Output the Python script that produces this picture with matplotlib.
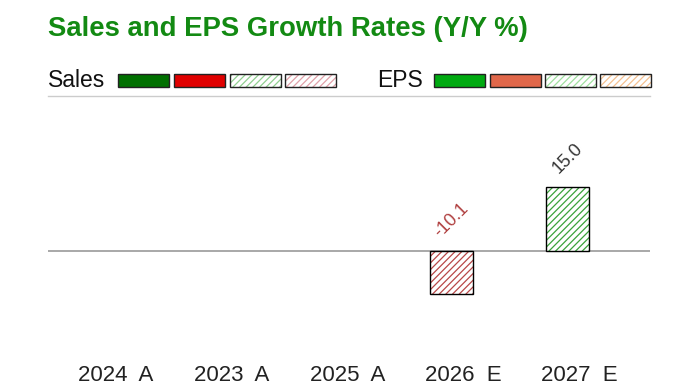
import matplotlib.pyplot as plt
from matplotlib.patches import Rectangle
import numpy as np

plt.rcParams['font.family'] = ['Liberation Sans', 'DejaVu Sans']
plt.rcParams['hatch.linewidth'] = 0.9

categories = ['2024  A', '2023  A', '2025  A', '2026  E', '2027  E']
is_estimate = [False, False, False, True, True]
sales_growth = [np.nan, np.nan, np.nan, -10.1, 15.0]
eps_growth = [np.nan, np.nan, np.nan, np.nan, np.nan]

fig = plt.figure(figsize=(7, 3.87), dpi=100)
ax = fig.add_axes([48 / 700, 46 / 387, 602 / 700, 245 / 387])

x = np.arange(len(categories))
w = 0.37

for i, v in enumerate(sales_growth):
    if np.isnan(v):
        continue
    pos = v >= 0
    if is_estimate[i]:
        hc = '#3aa23a' if pos else '#b84848'
        ax.bar(x[i] - 0.1, v, w, color='white', edgecolor=hc, hatch='/////', lw=0, zorder=2)
        ax.bar(x[i] - 0.1, v, w, color='none', edgecolor='black', lw=1.0, zorder=3)
    else:
        ax.bar(x[i] - 0.1, v, w, color='#007000' if pos else '#e00000', edgecolor='black', lw=1.0, zorder=3)
    ax.text(x[i] - 0.1, max(v, 0) + 2.4, f'{v:.1f}', rotation=45, ha='center', va='bottom',
            fontsize=13, color='#333333' if pos else '#b04040')

ax.axhline(0, color='#999999', lw=1.2, zorder=1)
ax.set_xlim(-0.58, 4.61)
ax.set_ylim(-21, 36.3)
ax.set_xticks(x)
ax.set_xticklabels(categories, fontsize=16, color='#222222')
ax.tick_params(axis='x', length=0, pad=17)
ax.set_yticks([])
for s in ['left', 'right', 'bottom']:
    ax.spines[s].set_visible(False)
ax.spines['top'].set_color('#cccccc')
ax.spines['top'].set_linewidth(1.0)

fig.text(48 / 700, 1 - 28.5 / 387, 'Sales and EPS Growth Rates (Y/Y %)', fontsize=19.8, fontweight='bold',
         color='#138a13', va='center', ha='left')

# legend row
ly = 1 - 80.5 / 387
fig.text(48 / 700, ly, 'Sales', fontsize=16.5, va='center', ha='left', color='#111111')
fig.text(377 / 700, ly, 'EPS', fontsize=16.5, va='center', ha='left', color='#111111')
legend_items = [
    (118, '#007000', None), (174, '#e00000', None), (230, 'white', '#8fcf8f'), (285, 'white', '#e0a0a8'),
    (434, '#00aa11', None), (490, '#e0674a', None), (545, 'white', '#9fe09f'), (600, 'white', '#f5c090'),
]
for px, fc, hc in legend_items:
    r = Rectangle((px / 700, 1 - 87 / 387), 51 / 700, 13 / 387, transform=fig.transFigure,
                  facecolor=fc, edgecolor=hc if hc else 'black', hatch='/////' if hc else None, lw=0)
    fig.add_artist(r)
    r2 = Rectangle((px / 700, 1 - 87 / 387), 51 / 700, 13 / 387, transform=fig.transFigure,
                   facecolor='none', edgecolor='#222222', lw=1.0)
    fig.add_artist(r2)

fig.savefig('out.png', dpi=100)
